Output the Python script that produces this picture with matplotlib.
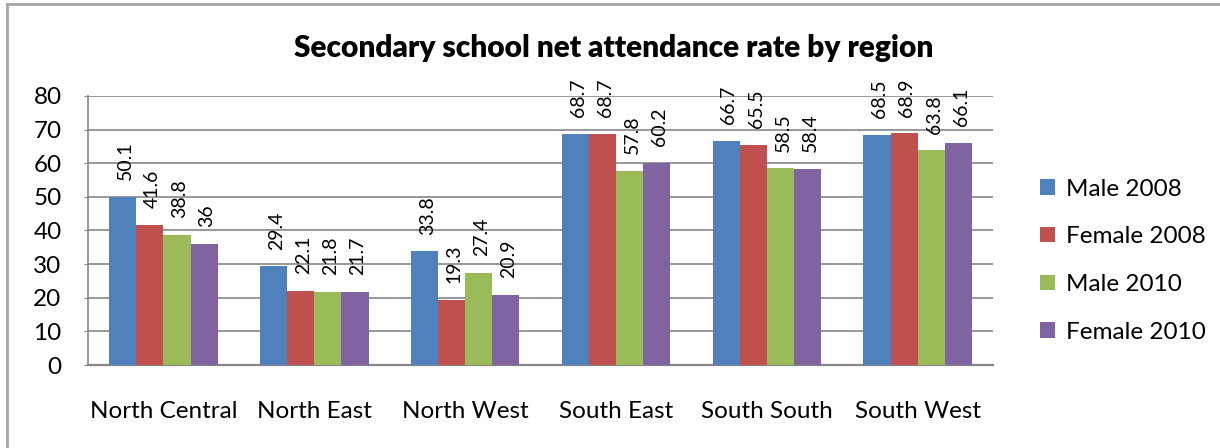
import numpy as np
import matplotlib
matplotlib.use("Agg")
from matplotlib import pyplot as plt
from matplotlib.lines import Line2D

regions = ["North Central", "North East", "North West", "South East", "South South", "South West"]
series_names = ["Male 2008", "Female 2008", "Male 2010", "Female 2010"]
male_2008 = [50.1, 29.4, 33.8, 68.7, 66.7, 68.5]
female_2008 = [41.6, 22.1, 19.3, 68.7, 65.5, 68.9]
male_2010 = [38.8, 21.8, 27.4, 57.8, 58.5, 63.8]
female_2010 = [36, 21.7, 20.9, 60.2, 58.4, 66.1]
y_ticks = [0, 10, 20, 30, 40, 50, 60, 70, 80]

colors = ['#4F81BD', '#C0504D', '#9BBB59', '#8064A2']
plt.rcParams['font.family'] = ['Lato', 'DejaVu Sans']

fig = plt.figure(figsize=(12.2, 4.48), dpi=100)
ax = fig.add_axes([0.0721, 0.185, 0.742, 0.601])

# outer frame of the chart (top and left edges visible)
fig.add_artist(Line2D([0.0055, 0.0055], [0, 0.991], transform=fig.transFigure, color='#A6A6A6', lw=2))
fig.add_artist(Line2D([0.0055, 1.0], [0.991, 0.991], transform=fig.transFigure, color='#A6A6A6', lw=2))

x = np.arange(len(regions))
w = 0.18
all_series = [male_2008, female_2008, male_2010, female_2010]
for i, (vals, name) in enumerate(zip(all_series, series_names)):
    pos = x + (i - 1.5) * w
    bars = ax.bar(pos, vals, width=w, color=colors[i], label=name, zorder=3)
    for b, v in zip(bars, vals):
        ax.annotate(f'{v:g}', (b.get_x() + b.get_width() / 2, v), xytext=(2, 12),
                    textcoords='offset points', rotation=90, ha='center', va='bottom',
                    fontsize=14, zorder=4)

ax.set_xlim(-0.5, len(regions) - 0.5)
ax.set_ylim(0, 80)
ax.set_yticks(y_ticks)
ax.set_xticks(x)
ax.set_xticklabels(regions, fontsize=17.5)
ax.tick_params(axis='y', labelsize=17.5, length=3, pad=16, color='#868686')
ax.tick_params(axis='x', length=0, pad=25.5)
ax.yaxis.grid(True, color='#868686', lw=1.2, zorder=0)
ax.set_axisbelow(True)
for s in ['top', 'right']:
    ax.spines[s].set_visible(False)
ax.spines['left'].set_color('#868686')
ax.spines['bottom'].set_color('#868686')
ax.spines['left'].set_linewidth(1.2)
ax.spines['bottom'].set_linewidth(1.6)

fig.text(0.503, 0.893, 'Secondary school net attendance rate by region', ha='center', va='center',
         fontsize=21.5, fontweight='heavy')

ax.legend(loc='center left', bbox_to_anchor=(1.028, 0.388), frameon=False, fontsize=17.5,
          handlelength=0.6, handleheight=0.6, handletextpad=0.45, labelspacing=1.1)

plt.savefig('out.png', dpi=100)
